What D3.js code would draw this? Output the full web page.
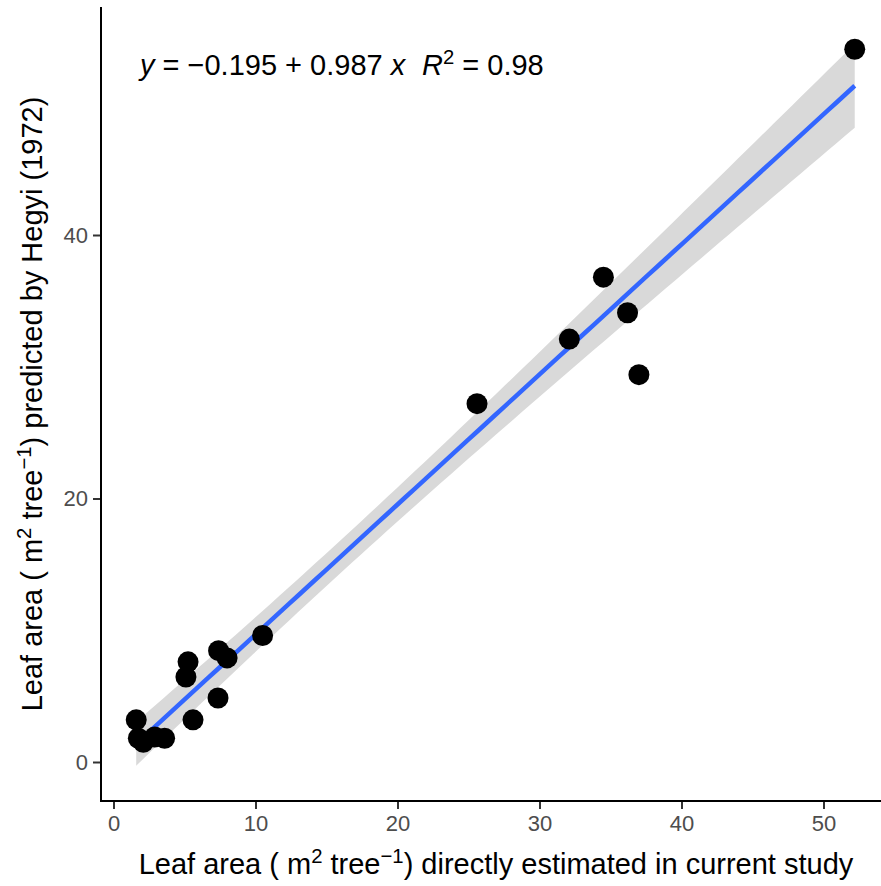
<!DOCTYPE html>
<html>
<head>
<meta charset="utf-8">
<script src="https://cdn.jsdelivr.net/npm/d3@7"></script>
<style>
  body { margin: 0; background: #fff; }
  svg text { font-family: "Liberation Sans", Arial, sans-serif; }
</style>
</head>
<body>
<div id="chart"></div>
<script>
// leaf area directly estimated (x) vs predicted by Hegyi (y)
var estimated = [52.2, 34.5, 36.2, 32.1, 37.0, 25.6, 10.5, 7.4, 8.0, 5.25, 5.1, 7.36, 5.6, 1.6, 1.75, 2.1, 2.9, 3.6];
var predicted = [54.1, 36.8, 34.1, 32.1, 29.4, 27.2, 9.6, 8.45, 7.9, 7.6, 6.45, 4.86, 3.2, 3.2, 1.8, 1.5, 1.9, 1.8];
var xTicks = [0, 10, 20, 30, 40, 50];
var yTicks = [0, 20, 40];
var intercept = -0.195, slope = 0.987, rSquared = 0.98;

var W = 881, H = 886;
var svg = d3.select("#chart").append("svg")
	.attr("width", W)
	.attr("height", H);

var x = d3.scaleLinear().domain([0, 50]).range([113.5, 823.5]);
var y = d3.scaleLinear().domain([0, 40]).range([762, 235]);

var data = estimated.map(function(d, i) { return {x: d, y: predicted[i]}; });

// confidence band (95%) around the fitted line, from the residuals
var n = data.length;
var xbar = d3.mean(estimated);
var sxx = d3.sum(estimated, function(d) { return (d - xbar) * (d - xbar); });
var sse = d3.sum(data, function(d) { var r = d.y - (intercept + slope * d.x); return r * r; });
var s = Math.sqrt(sse / (n - 2));
var tq = 2.12; // t(0.975, 16)
var xmin = d3.min(estimated), xmax = d3.max(estimated);
var band = d3.range(0, 81).map(function(i) {
	var xv = xmin + (xmax - xmin) * i / 80;
	var fit = intercept + slope * xv;
	var se = s * Math.sqrt(1 / n + (xv - xbar) * (xv - xbar) / sxx);
	return {x: xv, lo: fit - tq * se, hi: fit + tq * se, fit: fit};
});

svg.append("path")
	.datum(band)
	.attr("fill", "#d9d9d9")
	.attr("d", d3.area()
		.x(function(d) { return x(d.x); })
		.y0(function(d) { return y(d.lo); })
		.y1(function(d) { return y(d.hi); }));

svg.append("path")
	.datum(band)
	.attr("fill", "none")
	.attr("stroke", "#3366FF")
	.attr("stroke-width", 4.5)
	.attr("d", d3.line()
		.x(function(d) { return x(d.x); })
		.y(function(d) { return y(d.fit); }));

svg.selectAll(".pt")
	.data(data)
	.enter().append("circle")
	.attr("class", "pt")
	.attr("cx", function(d) { return x(d.x); })
	.attr("cy", function(d) { return y(d.y); })
	.attr("r", 10.5)
	.attr("fill", "#000");

// axes
var xAxis = svg.append("g")
	.attr("transform", "translate(0,801)")
	.call(d3.axisBottom(x).tickValues(xTicks).tickSize(8).tickPadding(6).tickSizeOuter(0));
xAxis.select(".domain").remove();
xAxis.append("line").attr("x1", 100).attr("x2", W).attr("stroke", "#000").attr("stroke-width", 2);

var yAxis = svg.append("g")
	.attr("transform", "translate(101,0)")
	.call(d3.axisLeft(y).tickValues(yTicks).tickSize(8).tickPadding(5).tickSizeOuter(0));
yAxis.select(".domain").remove();
yAxis.append("line").attr("y1", 7).attr("y2", 802).attr("stroke", "#000").attr("stroke-width", 2);

svg.selectAll(".tick line").attr("stroke", "#333").attr("stroke-width", 2);
svg.selectAll(".tick text")
	.attr("fill", "#4d4d4d")
	.attr("font-size", 22)
	.attr("font-family", "Liberation Sans, Arial, sans-serif");

// axis titles with superscripts
function unitTitle(sel, before, after) {
	sel.append("tspan").text(before + "( m");
	sel.append("tspan").attr("baseline-shift", "super").attr("font-size", "70%").text("2");
	sel.append("tspan").text(" tree");
	sel.append("tspan").attr("baseline-shift", "super").attr("font-size", "70%").text("\u22121");
	sel.append("tspan").text(") " + after);
}

var xt = svg.append("text")
	.attr("x", 496)
	.attr("y", 874)
	.attr("text-anchor", "middle")
	.attr("font-size", 29)
	.attr("fill", "#000");
unitTitle(xt, "Leaf area ", "directly estimated in current study");

var yt = svg.append("text")
	.attr("transform", "translate(42,404) rotate(-90)")
	.attr("text-anchor", "middle")
	.attr("font-size", 29)
	.attr("fill", "#000");
unitTitle(yt, "Leaf area ", "predicted by Hegyi (1972)");

// equation label
var eq = svg.append("text")
	.attr("x", 140)
	.attr("y", 75)
	.attr("font-size", 29)
	.attr("fill", "#000");
eq.append("tspan").attr("font-style", "italic").text("y");
eq.append("tspan").text(" = \u2212" + Math.abs(intercept).toFixed(3) + " + " + slope.toFixed(3) + " ");
eq.append("tspan").attr("font-style", "italic").text("x");
eq.append("tspan").attr("font-style", "italic").attr("x", 422).text("R");
eq.append("tspan").attr("baseline-shift", "super").attr("font-size", "70%").text("2");
eq.append("tspan").attr("baseline-shift", "baseline").text(" = " + rSquared.toFixed(2));
</script>
</body>
</html>
